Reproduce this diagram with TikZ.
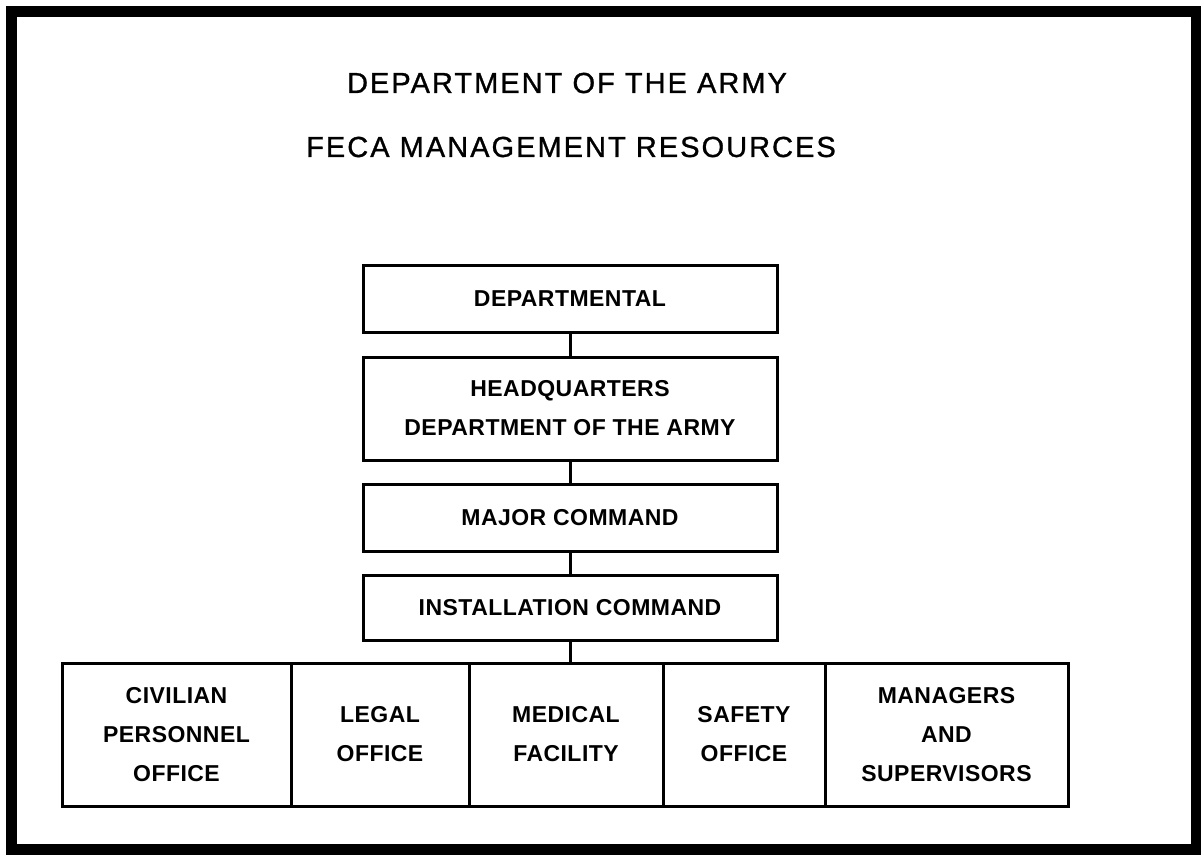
\documentclass[tikz,border=0pt]{standalone}
\usepackage{fontspec}
\setmainfont{Liberation Sans}
\newfontfamily\titlefam[LetterSpace=7,FakeBold=1]{Liberation Sans}
\newfontfamily\boxfam[LetterSpace=2]{Liberation Sans}
\newcommand\titlefnt{\titlefam\fontsize{14.5}{18}\selectfont}
\newcommand\boxfnt{\boxfam\bfseries\fontsize{11.5}{19.5}\selectfont}
\begin{document}
\begin{tikzpicture}[x=0.5pt,y=-0.5pt,
  tier/.style={draw,line width=1.5pt,inner sep=0pt,minimum width=207pt,align=center,font=\boxfnt},
  cell/.style={draw,line width=1.5pt,inner sep=0pt,minimum height=71.5pt,align=center,font=\boxfnt},
  link/.style={line width=1.5pt},
  ttl/.style={font=\titlefnt,inner sep=0pt}]
\useasboundingbox (0,0) rectangle (1201,856);
\draw[line width=5.5pt] (11,12) rectangle (1196,849);
\node[ttl] (t1) at (567,83) {DEPARTMENT OF THE ARMY};
\node[ttl] (t2) at (571,147) {FECA MANAGEMENT RESOURCES};
\node[tier,minimum height=33pt] (dept) at (570,299) {DEPARTMENTAL};
\node[tier,minimum height=51.5pt] (hq) at (570,408.5) {HEADQUARTERS\\DEPARTMENT OF THE ARMY};
\node[tier,minimum height=33.5pt] (maj) at (570,517.5) {MAJOR COMMAND};
\node[tier,minimum height=32.5pt] (inst) at (570,607.5) {INSTALLATION COMMAND};
\node[cell,minimum width=114.5pt] (civ) at (176.5,734.5) {CIVILIAN\\PERSONNEL\\OFFICE};
\node[cell,minimum width=89pt] (legal) at (380,734.5) {LEGAL\\OFFICE};
\node[cell,minimum width=97pt] (med) at (566,734.5) {MEDICAL\\FACILITY};
\node[cell,minimum width=81pt] (safe) at (744,734.5) {SAFETY\\OFFICE};
\node[cell,minimum width=121.5pt] (mgr) at (946.5,734.5) {MANAGERS\\AND\\SUPERVISORS};
\draw[link] (dept.south) -- (hq.north);
\draw[link] (hq.south) -- (maj.north);
\draw[link] (maj.south) -- (inst.north);
\draw[link] (inst.south) -- (inst.south |- med.north);
\end{tikzpicture}
\end{document}
